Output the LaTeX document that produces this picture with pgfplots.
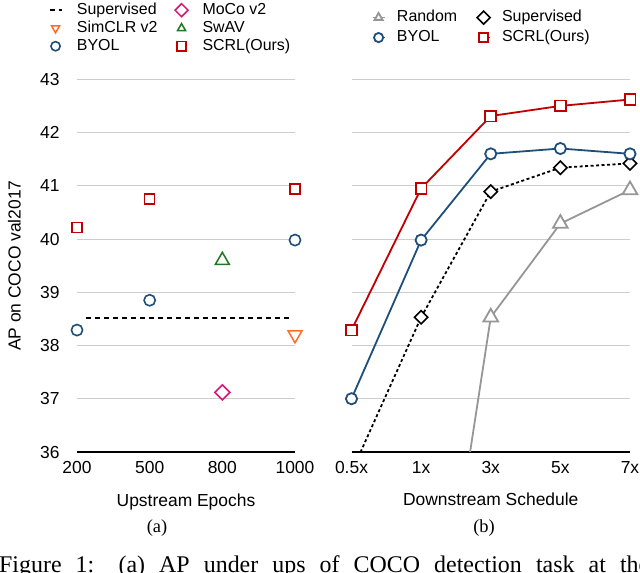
\documentclass[border=0pt]{standalone}
\usepackage{fontspec}
\setmainfont{Liberation Sans}
\newfontfamily\capfont{Liberation Serif}
\usepackage{pgfplots}
\pgfplotsset{compat=1.18}

\definecolor{scrlred}{RGB}{192,0,0}
\definecolor{byolblue}{RGB}{31,78,121}
\definecolor{swavgreen}{RGB}{30,120,30}
\definecolor{simclrorange}{RGB}{255,110,40}
\definecolor{mocopink}{RGB}{220,20,120}
\definecolor{randgray}{RGB}{150,150,150}
\definecolor{gridgray}{RGB}{205,205,205}

\pgfplotsset{
  panel/.style={
    scale only axis, height=372.7bp, anchor=south west,
    ymin=36, ymax=43, ytick={36,...,43},
    axis line style={draw=none}, major tick length=0pt,
    ymajorgrids, grid style={gridgray, line width=1bp},
    extra y ticks={36}, extra y tick labels={},
    extra y tick style={grid=major, major grid style={black, line width=1.8bp}},
    tick label style={font=\fontsize{17.5}{21}\selectfont},
    /pgf/number format/assume math mode=true,
    xticklabel style={yshift=-6bp},
    yticklabel style={xshift=-14bp},
    label style={font=\fontsize{17.5}{21}\selectfont},
    xlabel style={at={(axis description cs:0.5,0)}, anchor=base, yshift=-54bp},
    legend columns=2, legend cell align=left,
    legend image code/.code={\draw[mark repeat=2,mark phase=2,mark size=4.6bp] plot coordinates {(0bp,0bp)(6bp,0bp)(12bp,0bp)};},
  },
}

\begin{document}
\begin{tikzpicture}
\path[use as bounding box] (0,0) rectangle (640bp,573bp);

% (a) upstream epochs
\begin{axis}[panel, at={(77bp,121bp)}, width=218bp,
  xmin=0, xmax=3, xtick={0,1,2,3}, xticklabels={200,500,800,1000},
  xlabel={Upstream Epochs}, ylabel={AP on COCO val2017},
  ylabel style={at={(axis description cs:-0.2867,0.5)}, anchor=center},
  legend style={at={(-0.131,1.2100)}, anchor=north west, draw=none, fill=none,
    inner sep=0pt, font=\fontsize{16}{19}\selectfont,
    nodes={inner sep=1.5bp, text height=11.5bp, text depth=3.5bp},
    /tikz/every odd column/.append style={column sep=13bp},
    /tikz/every even column/.append style={column sep=16bp}},
]
\addplot[black, line width=1.8bp, dash pattern=on 5bp off 4bp] coordinates {(0.13,38.52) (2.95,38.52)};
\addlegendentry{Supervised}
\addplot[mocopink, only marks, mark=square*, mark size=5.3bp, mark options={rotate=45, fill=white, line width=1.5bp}] coordinates {(2,37.12)};
\addlegendentry{MoCo v2}
\addplot[simclrorange, only marks, mark=triangle*, mark size=8bp, mark options={rotate=180, fill=white, line width=1.5bp}] coordinates {(3,38.2)};
\addlegendentry{SimCLR v2}
\addplot[swavgreen, only marks, mark=triangle*, mark size=8bp, mark options={fill=white, line width=1.5bp}] coordinates {(2,39.6)};
\addlegendentry{SwAV}
\addplot[byolblue, only marks, mark=*, mark size=5.6bp, mark options={fill=white, line width=1.6bp}] coordinates {(0,38.29) (1,38.85) (3,39.98)};
\addlegendentry{BYOL}
\addplot[scrlred, only marks, mark=square*, mark size=5bp, mark options={fill=white, line width=1.6bp}] coordinates {(0,40.22) (1,40.75) (3,40.94)};
\addlegendentry{SCRL(Ours)}
\end{axis}

% (b) downstream schedule
\begin{axis}[panel, at={(351.5bp,121bp)}, width=278.5bp,
  xmin=0, xmax=4, xtick={0,1,2,3,4}, xticklabels={0.5x,1x,3x,5x,7x},
  yticklabels={}, xlabel={Downstream Schedule},
  legend style={at={(0.0718,1.1930)}, anchor=north west, draw=none, fill=none,
    inner sep=0pt, font=\fontsize{16}{19}\selectfont,
    nodes={inner sep=1.5bp, text height=12.5bp, text depth=4.5bp},
    /tikz/every odd column/.append style={column sep=10bp},
    /tikz/every even column/.append style={column sep=18bp}},
]
% segments that run below the axis (their first points lie under 36)
\addplot[randgray, line width=1.8bp, forget plot] coordinates {(1,30.0) (2,38.53)};
\addplot[black, line width=1.8bp, dash pattern=on 3bp off 2.5bp, forget plot] coordinates {(0,35.62) (1,38.53)};

\addplot[randgray, line width=1.8bp, mark=triangle*, mark size=8.5bp, mark options={fill=white, line width=1.8bp}] coordinates {(2,38.53) (3,40.29) (4,40.92)};
\addlegendentry{Random}
\addplot[black, line width=1.8bp, dash pattern=on 3bp off 2.5bp, mark=square*, mark size=4.7bp, mark options={solid, rotate=45, fill=white, line width=1.6bp}] coordinates {(1,38.53) (2,40.89) (3,41.34) (4,41.42)};
\addlegendentry{Supervised}
\addplot[byolblue, line width=1.8bp, mark=*, mark size=5.6bp, mark options={fill=white, line width=1.8bp}] coordinates {(0,37.0) (1,39.98) (2,41.60) (3,41.70) (4,41.60)};
\addlegendentry{BYOL}
\addplot[scrlred, line width=1.8bp, mark=square*, mark size=5.4bp, mark options={fill=white, line width=1.8bp}] coordinates {(0,38.29) (1,40.95) (2,42.31) (3,42.50) (4,42.62)};
\addlegendentry{SCRL(Ours)}
\end{axis}

\node[font=\capfont\fontsize{18.5}{22}\selectfont] at (157bp,45bp) {(a)};
\node[font=\capfont\fontsize{18.5}{22}\selectfont] at (484bp,45bp) {(b)};
\node[anchor=base west, inner sep=0pt, font=\capfont\fontsize{24}{28}\selectfont] at (-1bp,1bp)
  {\makebox[650bp][s]{Figure 1: (a) AP under ups of COCO detection task at the}};
\end{tikzpicture}
\end{document}
